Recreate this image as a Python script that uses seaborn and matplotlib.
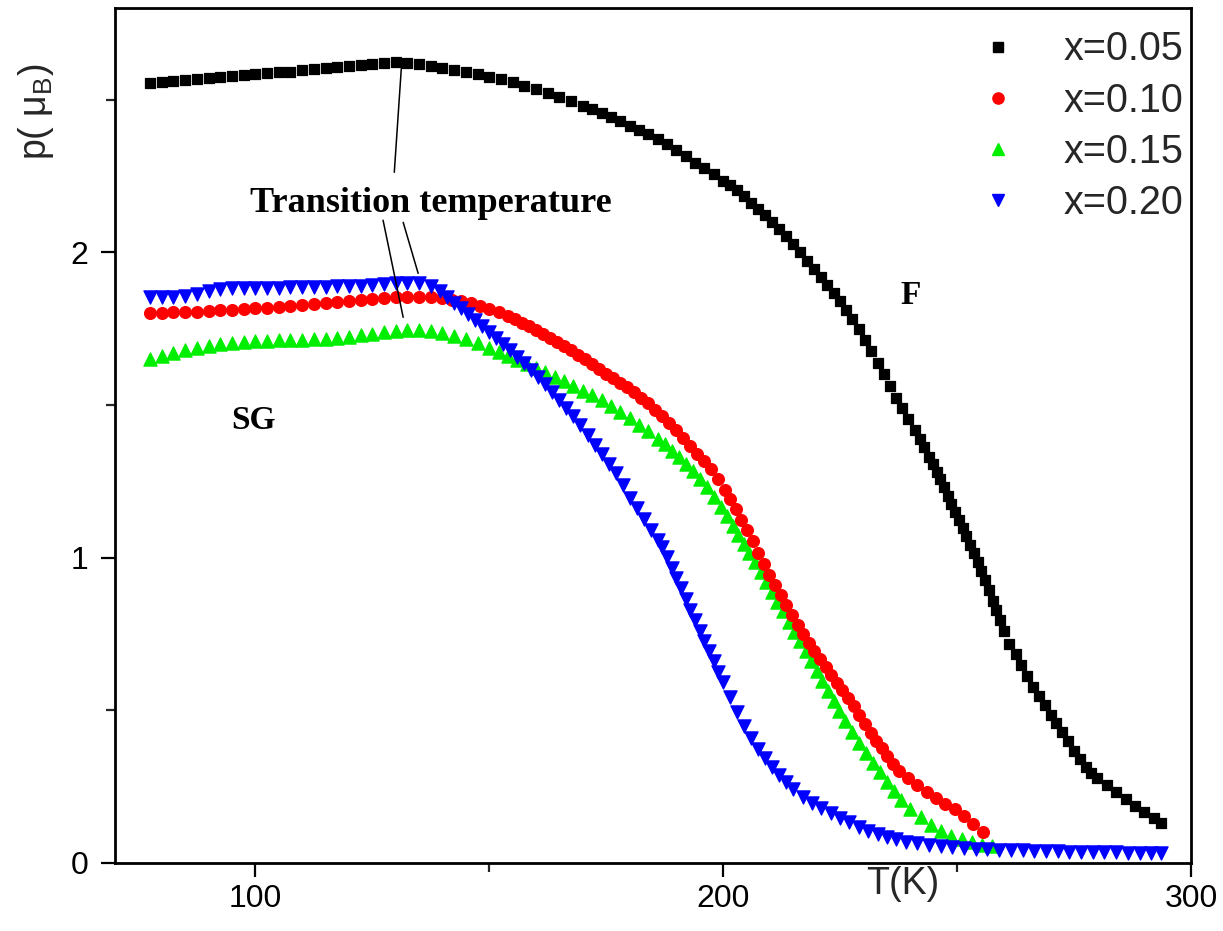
import matplotlib
matplotlib.use("Agg")
import matplotlib.pyplot as plt
import seaborn as sns
import pandas as pd
from matplotlib.ticker import FixedLocator

# Magnetic moment p (in Bohr magnetons) versus temperature T (K) for four compositions
black_pts = [(77.5,2.556),(80,2.558),(82.5,2.562),(85,2.563),(87.5,2.567),(90,2.571),(92.5,2.574),(95,2.576),
    (97.5,2.580),(100,2.583),(102.5,2.586),(105,2.589),(107.5,2.592),(110,2.596),(112.5,2.600),(115,2.603),
    (117.5,2.606),(120,2.609),(122.5,2.613),(125,2.617),(127.5,2.620),(130,2.622),
    (132.5,2.620),(135,2.616),(137.5,2.611),(140,2.604),(142.5,2.597),(145,2.590),(147.5,2.583),(150,2.575),
    (152.5,2.566),(155,2.557),(157.5,2.546),(160,2.534),(162.5,2.521),(165,2.508),(167.5,2.494),(170,2.480),
    (172,2.469),(174,2.456),(176,2.443),(178,2.429),(180,2.415),(182,2.400),(184,2.386),(186,2.371),
    (188,2.353),(190,2.334),(192,2.314),(194,2.294),(196,2.275),(198,2.255),(200,2.235),
    (201.5,2.220),(203,2.204),(204.5,2.184),(206,2.163),(207.5,2.142),(209,2.122),(210.5,2.100),(212,2.076),
    (213.5,2.052),(215,2.027),(216.5,2.001),(218,1.973),(219.5,1.945),
    (221,1.918),(222.3,1.893),(223.6,1.868),(225,1.840),(226.3,1.812),(227.6,1.782),(229,1.748),(230.3,1.714),
    (231.6,1.678),(233,1.638),(234.3,1.600),(235.6,1.563),(237,1.524),(238.3,1.489),(239.6,1.453),
    (240.9,1.418),(242,1.389),(243,1.361),(244,1.331),(244.8,1.306),(245.6,1.281),(246.4,1.256),(247.2,1.230),
    (248,1.203),(248.8,1.177),(249.6,1.150),(250.4,1.124),(251.2,1.098),(252,1.071),(252.8,1.043),(253.6,1.015),
    (254.4,0.987),(255.2,0.957),(256,0.926),(256.8,0.893),(257.6,0.859),(258.4,0.827),(259.2,0.796),(260,0.760),
    (261.2,0.717),(262.5,0.683),(263.7,0.650),(265,0.611),(266.2,0.578),(267.5,0.548),(268.7,0.518),(270,0.486),
    (271.2,0.457),(272.5,0.428),(273.7,0.400),(275,0.368),(276.2,0.341),(277.5,0.316),(278.7,0.296),(280,0.278),
    (282,0.255),(284,0.231),(286,0.208),(288,0.187),(290,0.166),(292,0.147),(293.5,0.132)]

red_pts = [(77.5,1.800),(80,1.801),(82.5,1.803),(85,1.804),(87.5,1.806),(90,1.808),(92.5,1.810),(95,1.812),
    (97.5,1.814),(100,1.816),(102.5,1.819),(105,1.822),(107.5,1.825),(110,1.828),(112.5,1.831),(115,1.834),
    (117.5,1.837),(120,1.840),(122.5,1.843),(125,1.846),(127.5,1.849),(130,1.852),(132.5,1.854),(135,1.855),
    (137.5,1.854),(140,1.850),
    (142,1.845),(144,1.840),(146,1.833),(148,1.825),(150,1.815),(152,1.804),(154,1.792),(155.5,1.782),
    (157,1.770),(158.5,1.758),(160,1.745),(161.5,1.733),(163,1.720),(164.5,1.707),(166,1.693),(167.5,1.679),
    (169,1.664),(170.5,1.649),(172,1.634),(173.5,1.618),(175,1.602),(176.5,1.587),(178,1.571),(179.5,1.558),
    (181,1.542),(182.5,1.523),(184,1.505),(185.5,1.485),(187,1.464),(188.5,1.441),(190,1.417),(191.5,1.391),
    (193,1.366),(194.5,1.341),(196,1.316),(197.5,1.289),(199,1.258),
    (200.3,1.222),(201.5,1.191),(202.7,1.158),(203.9,1.124),(205.1,1.089),(206.3,1.053),(207.5,1.016),
    (208.7,0.980),(209.9,0.943),(211.1,0.909),(212.3,0.877),(213.5,0.844),(214.7,0.812),(215.9,0.779),
    (217.1,0.749),(218.3,0.721),(219.5,0.694),(220.7,0.667),(221.9,0.641),(223.1,0.616),(224.3,0.591),
    (225.5,0.566),(226.7,0.541),(227.9,0.513),(229.1,0.484),(230.3,0.455),(231.5,0.427),(232.7,0.400),
    (233.9,0.375),(235.1,0.350),(236.3,0.325),(237.6,0.302),
    (239.5,0.278),(241.5,0.255),(243.5,0.233),(245.5,0.212),(247.5,0.194),(249.5,0.177),(251.5,0.153),
    (253.5,0.127),(255.5,0.100)]

green_pts = [(77.5,1.650),(80,1.660),(82.5,1.670),(85,1.679),(87.5,1.686),(90,1.694),(92.5,1.700),(95,1.704),
    (97.5,1.707),(100,1.709),(102.5,1.711),(105,1.712),(107.5,1.713),(110,1.714),(112.5,1.715),(115,1.717),
    (117.5,1.719),(120,1.723),(122.5,1.728),(125,1.733),(127.5,1.738),(130,1.742),(132.5,1.745),(135,1.745),
    (137.5,1.742),(140,1.735),(142.5,1.726),(145,1.715),(147.5,1.702),(150,1.686),
    (152,1.672),(154,1.660),(156,1.648),(158,1.635),(160,1.621),(162,1.607),(164,1.592),(166,1.577),
    (168,1.562),(170,1.547),(172,1.531),(174,1.515),(176,1.497),(178,1.478),(180,1.458),(182,1.436),
    (184,1.414),(186,1.390),
    (187.5,1.371),(189,1.350),(190.5,1.329),(192,1.307),(193.5,1.284),(195,1.257),(196.5,1.230),(198,1.200),
    (199.5,1.167),
    (200.8,1.136),(202,1.104),(203.2,1.075),(204.4,1.045),(205.6,1.016),(206.8,0.985),(208,0.952),(209.2,0.920),
    (210.4,0.888),(211.6,0.856),(212.8,0.824),(214,0.790),(215.2,0.758),(216.4,0.726),(217.6,0.694),
    (218.8,0.661),(220,0.628),(221.2,0.595),(222.4,0.562),(223.6,0.530),(224.8,0.498),
    (226,0.466),(227.5,0.429),(229,0.394),(230.5,0.360),(232,0.328),(233.5,0.297),(235,0.266),(236.5,0.235),
    (238,0.205),
    (240,0.176),(242.2,0.150),(244.4,0.126),(246.6,0.106),(248.8,0.090),(251,0.077),(253.2,0.068),
    (255.4,0.060),(257.5,0.055)]

blue_pts = [(77.5,1.853),(80,1.853),(82.5,1.853),(85,1.856),(87.5,1.865),(90,1.874),(92.5,1.881),(95,1.882),
    (97.5,1.883),(100,1.883),(102.5,1.884),(105,1.884),(107.5,1.885),(110,1.885),(112.5,1.886),(115,1.887),
    (117.5,1.888),(120,1.889),(122.5,1.891),(125,1.893),(127.5,1.896),(130,1.898),(132.5,1.898),(135,1.898),
    (137.5,1.890),
    (139.5,1.872),(141,1.852),(142.5,1.835),(144,1.817),(145.5,1.798),(147,1.778),(148.5,1.759),(150,1.740),
    (151.5,1.720),(153,1.700),(154.5,1.679),(156,1.658),(157.5,1.637),(159,1.615),(160.5,1.592),(162,1.568),
    (163.5,1.543),(165,1.517),(166.5,1.490),(168,1.463),(169.5,1.433),(171,1.402),(172.5,1.370),(174,1.338),
    (175.5,1.308),(177,1.276),(178.5,1.237),(180,1.196),(181.5,1.161),(183,1.127),(184.5,1.092),(186,1.058),
    (187,1.034),(188,1.001),(189,0.967),(190,0.933),(191,0.899),(192,0.865),(193,0.830),(194,0.795),
    (195,0.760),(196,0.727),(197,0.693),(198,0.660),(199,0.626),(200,0.592),
    (201.5,0.543),(203,0.495),(204.5,0.450),(206,0.408),(207.5,0.374),(209,0.343),(210.5,0.314),(212,0.288),
    (213.5,0.264),(215,0.242),
    (217,0.217),(219,0.197),(221,0.180),(223,0.164),(225,0.148),(227,0.133),(229,0.119),(231,0.105),
    (233,0.095),(235,0.086),(237,0.077),(239,0.070),
    (241.5,0.064),(244,0.059),(246.5,0.055),(249,0.052),(251.5,0.049),(254,0.047),(256.5,0.045),(259,0.043),
    (261.5,0.042),(264,0.041),(266.5,0.040),(269,0.039),(271.5,0.038),(274,0.037),(276.5,0.036),(279,0.036),
    (281.5,0.035),(284,0.035),(286.5,0.034),(289,0.034),(291.5,0.033),(293.5,0.033)]

series_labels = ["x=0.05", "x=0.10", "x=0.15", "x=0.20"]
series_colors = ["#000000", "#ff0000", "#00ee00", "#0000ff"]
series_markers = ["s", "o", "^", "v"]
series_sizes = [60, 72, 90, 90]
series_z = [2, 3, 2.5, 4]

x_major = [100, 200, 300]
x_minor = [150, 250]
y_major = [0, 1, 2]
y_minor = [0.5, 1.5, 2.5]

# leader lines from the "Transition temperature" note to the curve maxima
leader_lines = [((129.7, 131.2), (2.262, 2.602)),
                ((127.3, 131.6), (2.105, 1.787)),
                ((131.6, 134.8), (2.098, 1.931))]

sns.set_style("ticks")
plt.rcParams["font.family"] = ["Liberation Sans", "DejaVu Sans"]
plt.rcParams["mathtext.fontset"] = "custom"
plt.rcParams["mathtext.rm"] = "Liberation Sans"

fig = plt.figure(figsize=(12.23, 9.31), dpi=100)
ax = fig.add_axes([115 / 1223, 1 - 863 / 931, (1191 - 115) / 1223, (863 - 8) / 931])

all_series = [black_pts, red_pts, green_pts, blue_pts]
handles = []
for pts, lab, col, mk, sz, z in zip(all_series, series_labels, series_colors,
                                    series_markers, series_sizes, series_z):
    df = pd.DataFrame(pts, columns=["T", "p"])
    sns.scatterplot(data=df, x="T", y="p", marker=mk, color=col, s=sz,
                    edgecolor=col, linewidth=0.9, ax=ax, zorder=z, label=lab, legend=False)
    handles.append(plt.Line2D([], [], linestyle="none", marker=mk, color=col,
                              markersize=sz ** 0.5 * 0.95, label=lab))

for xs, ys in leader_lines:
    ax.plot(xs, ys, color="black", lw=1.1, zorder=5)

serif_bold = dict(family=["Liberation Serif", "DejaVu Serif"], weight="bold", color="black")
ax.text(137.6, 2.16, "Transition temperature", ha="center", va="center", fontsize=26, **serif_bold)
ax.text(99.6, 1.45, "SG", ha="center", va="center", fontsize=24, **serif_bold)
ax.text(240.0, 1.86, "F", ha="center", va="center", fontsize=24, **serif_bold)

ax.set_xlim(70, 300)
ax.set_ylim(0, 2.8)
ax.xaxis.set_major_locator(FixedLocator(x_major))
ax.xaxis.set_minor_locator(FixedLocator(x_minor))
ax.yaxis.set_major_locator(FixedLocator(y_major))
ax.yaxis.set_minor_locator(FixedLocator(y_minor))
ax.set_xticklabels([str(v) for v in x_major])
ax.set_yticklabels([str(v) for v in y_major])

for s in ax.spines.values():
    s.set_linewidth(2.0)
    s.set_color("black")
ax.tick_params(which="major", direction="out", length=10, width=1.6, labelsize=23,
               colors="black", top=False, right=False)
ax.tick_params(which="minor", direction="out", length=6.5, width=1.6, top=False, right=False)
ax.tick_params(axis="x", which="major", pad=5)
ax.tick_params(axis="y", which="major", pad=9)

ax.set_xlabel("T(K)", fontsize=27)
ax.xaxis.set_label_coords((903 - 115) / 1076, (863 - 866) / 855)
ax.set_ylabel(r"p( $\mathregular{\mu_B}$)", fontsize=27)
ax.yaxis.set_label_coords((56 - 115) / 1076, (863 - 112) / 855)

ax.legend(handles=handles, loc="upper right", frameon=False, fontsize=28.5,
          handlelength=1.0, handletextpad=1.15, labelspacing=0.33,
          borderpad=0.1, borderaxespad=0.1, bbox_to_anchor=(1.0, 0.983))

fig.savefig("out.png", dpi=100, facecolor="white")
